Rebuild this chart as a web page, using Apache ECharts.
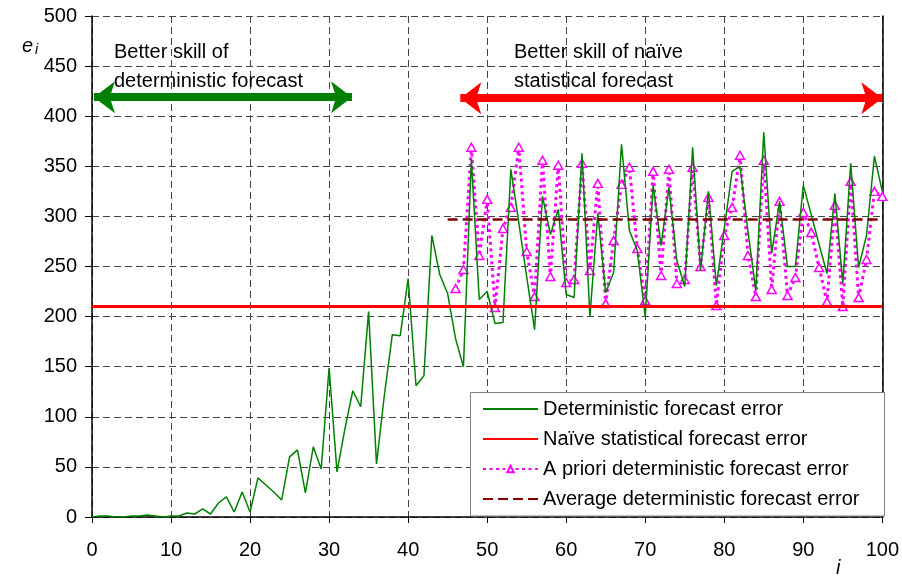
<!DOCTYPE html>
<html><head><meta charset="utf-8">
<script src="https://cdn.jsdelivr.net/npm/echarts@6/dist/echarts.min.js"></script>
<style>html,body{margin:0;padding:0;background:#fff}#c{width:902px;height:577px}</style>
</head><body><div id="c"></div>
<script>
const FONT = '"Liberation Sans", Arial, Helvetica, sans-serif';

// x index i = 0..100 ; deterministic forecast error e_i
const deterministic = [
  0,1,1,0,0,1,1,2,1,0,
  1,1,4,3,8,3,14,20,5,25,
  5,39,32,25,17,60,67,24,70,48,
  149,45,88,126,110,205,53,122,182,181,
  238,131,141,281,242,223,178,150,357,217,
  225,193,194,347,294,240,187,320,282,307,
  222,219,363,200,303,224,244,372,286,266,
  200,331,271,329,256,230,369,246,325,231,
  288,345,350,285,226,384,263,315,250,250,
  331,302,272,243,323,233,353,249,281,360,
  325
];

// a priori deterministic forecast error, starting at i = 46
const aprioriStart = 46;
const apriori = [
  228,247,369,261,317,209,288,309,369,265,
  220,356,240,351,234,237,353,246,333,213,
  276,332,349,268,216,345,241,347,233,237,
  349,250,319,211,281,309,361,261,220,356,
  227,315,221,239,304,284,249,215,311,210,
  335,219,257,325,320
];

const naiveRange = [0, 100];
const naiveLevel = 210;
const averageRange = [45, 100];
const averageLevel = 297;

const seriesNames = [
  'Deterministic forecast error',
  'Naïve statistical forecast error',
  'A priori deterministic forecast error',
  'Average deterministic forecast error'
];

const chart = echarts.init(document.getElementById('c'), null, {renderer: 'canvas'});

const hiddenSymbol = {color: 'rgba(0,0,0,0)', borderColor: 'rgba(0,0,0,0)', borderWidth: 0, opacity: 0};

const option = {
  animation: false,
  backgroundColor: '#ffffff',
  textStyle: {fontFamily: FONT},
  grid: {left: 92, right: 17, top: 16, bottom: 60, containLabel: false},
  xAxis: {
    type: 'value', min: 0, max: 100, interval: 10,
    axisLine: {show: true, lineStyle: {color: '#000', width: 1.5}},
    axisTick: {show: true, length: 6, lineStyle: {color: '#000', width: 1}},
    axisLabel: {fontSize: 20, color: '#000', margin: 23, fontFamily: FONT},
    splitLine: {show: true, lineStyle: {type: [7, 4], color: '#444', width: 1}}
  },
  yAxis: [{
    type: 'value', min: 0, max: 500, interval: 50,
    axisLine: {show: true, lineStyle: {color: '#000', width: 1.5}},
    axisTick: {show: true, length: 7, lineStyle: {color: '#000', width: 1}},
    axisLabel: {fontSize: 20, color: '#000', margin: 15, fontFamily: FONT},
    splitLine: {show: true, lineStyle: {type: [7, 4], color: '#444', width: 1}}
  }, {
    type: 'value', min: 0, max: 500, position: 'right',
    axisLine: {show: true, lineStyle: {color: '#000', width: 1.5}},
    axisTick: {show: false}, axisLabel: {show: false}, splitLine: {show: false}
  }],
  legend: {
    z: 60,
    data: [
      {name: seriesNames[0], itemStyle: hiddenSymbol},
      {name: seriesNames[1], itemStyle: hiddenSymbol},
      {name: seriesNames[2]},
      {name: seriesNames[3], itemStyle: hiddenSymbol}
    ],
    orient: 'vertical',
    left: 482, top: 399,
    padding: 0,
    itemWidth: 55, itemHeight: 8, itemGap: 10,
    textStyle: {fontSize: 20, color: '#000', fontFamily: FONT},
    selectedMode: false
  },
  graphic: [
    {type: 'rect', left: 470, top: 392, z: 50,
     shape: {width: 414, height: 123.5},
     style: {fill: '#fff', stroke: '#808080', lineWidth: 1}},
    {type: 'text', left: 114, top: 38, z: 55,
     style: {text: 'Better skill of\ndeterministic forecast', font: '20px ' + FONT, fill: '#000', lineHeight: 29}},
    {type: 'text', left: 514, top: 38, z: 55,
     style: {text: 'Better skill of naïve\nstatistical forecast', font: '20px ' + FONT, fill: '#000', lineHeight: 29}},
    {type: 'text', left: 22, top: 36, z: 55,
     style: {text: '{e|e}{s|i}', rich: {
       e: {fontSize: 20, fontStyle: 'italic', fontFamily: FONT, fill: '#000'},
       s: {fontSize: 14, fontStyle: 'italic', fontFamily: FONT, fill: '#000', padding: [8, 0, 0, 2]}
     }}},
    {type: 'text', left: 836, top: 558, z: 55,
     style: {text: 'i', font: 'italic 20px ' + FONT, fill: '#000'}}
  ],
  series: [
    {
      name: seriesNames[0], type: 'line', z: 3,
      data: deterministic.map((v, i) => [i, v]),
      symbol: 'none', showSymbol: false,
      lineStyle: {color: '#008000', width: 1.5},
      itemStyle: {color: '#008000'},
      emphasis: {disabled: true}
    },
    {
      name: seriesNames[1], type: 'line', z: 4,
      data: [[naiveRange[0], naiveLevel], [naiveRange[1], naiveLevel]],
      symbol: 'none', showSymbol: false,
      lineStyle: {color: '#FF0000', width: 3},
      itemStyle: {color: '#FF0000'},
      emphasis: {disabled: true}
    },
    {
      name: seriesNames[2], type: 'line', z: 2,
      data: apriori.map((v, i) => [i + aprioriStart, v]),
      symbol: 'triangle', symbolSize: [9, 8], showSymbol: true,
      lineStyle: {color: '#FF00FF', width: 3, type: [3, 3.5], cap: 'butt'},
      itemStyle: {color: '#ffffff', borderColor: '#FF00FF', borderWidth: 1.5},
      emphasis: {disabled: true}
    },
    {
      name: seriesNames[3], type: 'line', z: 5,
      data: [[averageRange[0], averageLevel], [averageRange[1], averageLevel]],
      symbol: 'none', showSymbol: false,
      lineStyle: {color: '#800000', width: 2.5, type: [10, 5]},
      itemStyle: {color: '#800000'},
      emphasis: {disabled: true}
    },
    {
      name: 'arrows', type: 'line', data: [], z: 6,
      markLine: {
        silent: true, animation: false,
        symbol: ['arrow', 'arrow'], symbolSize: [24, 21],
        label: {show: false},
        emphasis: {disabled: true},
        data: [
          [{coord: [0.25, 419], lineStyle: {color: '#008000', width: 8, type: 'solid'}, itemStyle: {color: '#008000'}},
           {coord: [32.9, 419]}],
          [{coord: [46.6, 418], lineStyle: {color: '#FF0000', width: 8, type: 'solid'}, itemStyle: {color: '#FF0000'}},
           {coord: [100, 418]}]
        ]
      }
    }
  ]
};
chart.setOption(option);
</script>
</body></html>
